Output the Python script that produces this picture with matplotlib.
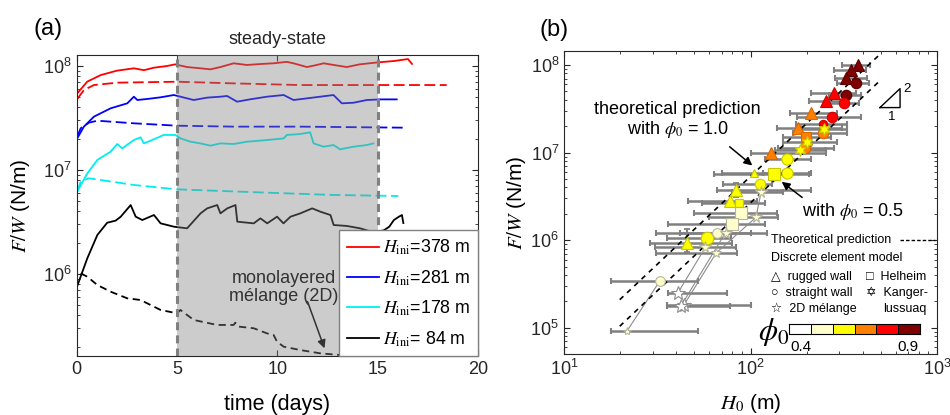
import numpy as np
import matplotlib
matplotlib.use('Agg')
import matplotlib.pyplot as plt
from matplotlib.colors import ListedColormap

plt.rcParams['font.family'] = ['Liberation Sans', 'DejaVu Sans']
plt.rcParams['mathtext.fontset'] = 'stix'
plt.rcParams['axes.linewidth'] = 0.8
plt.rcParams['axes.edgecolor'] = '#262626'
plt.rcParams['xtick.color'] = '#262626'
plt.rcParams['ytick.color'] = '#262626'

# ---------------- (a) F/W through time, stored as log10(F/W) ----------------
t_red = [0.03, 0.53, 1.2, 2.0, 2.85, 3.35, 3.85, 4.5, 4.9, 5.5, 6.16, 6.66, 7.16, 7.82, 8.48,
         9.15, 9.8, 10.47, 10.8, 11.47, 11.96, 12.3, 12.8, 13.45, 14.1, 15.0, 15.8, 16.5, 16.7]
log_red = [7.737, 7.85, 7.913, 7.955, 7.978, 7.96, 7.984, 8.0, 8.016, 7.99, 7.978, 7.968, 7.99, 8.026, 8.01,
           8.019, 8.026, 8.04, 8.026, 7.99, 8.01, 8.026, 8.01, 7.99, 8.016, 8.035, 8.048, 8.067, 8.02]
t_red_d = [0.03, 0.36, 0.86, 2.02, 5.0, 7.82, 11.13, 14.95, 18.43]
log_red_d = [7.683, 7.769, 7.817, 7.84, 7.849, 7.833, 7.817, 7.817, 7.817]

t_blue = [0.03, 0.36, 0.86, 1.69, 2.52, 2.85, 3.02, 3.51, 4.18, 4.84, 5.17, 5.83, 6.5, 7.16, 7.49,
          7.99, 8.65, 9.48, 10.31, 10.8, 11.47, 12.13, 12.79, 13.21, 13.79, 14.45, 15.11, 15.94]
log_blue = [7.305, 7.417, 7.513, 7.593, 7.641, 7.705, 7.673, 7.683, 7.699, 7.721, 7.705, 7.673, 7.696, 7.705, 7.712,
            7.657, 7.68, 7.705, 7.721, 7.673, 7.689, 7.705, 7.721, 7.641, 7.647, 7.673, 7.679, 7.679]
t_blue_d = [0.03, 0.2, 0.61, 1.03, 2.85, 5.0, 7.82, 11.13, 16.27]
log_blue_d = [7.321, 7.401, 7.455, 7.474, 7.449, 7.426, 7.417, 7.417, 7.407]

t_cyan = [0.03, 0.53, 1.03, 1.69, 2.02, 2.27, 2.85, 3.18, 3.35, 3.84, 4.34, 4.92, 5.17, 5.67, 6.16,
          6.66, 7.16, 7.82, 8.48, 9.48, 10.31, 10.47, 11.13, 11.63, 11.8, 12.3, 12.79, 13.12, 13.79, 14.45, 14.78]
log_cyan = [6.792, 6.968, 7.096, 7.176, 7.25, 7.208, 7.288, 7.314, 7.256, 7.295, 7.337, 7.337, 7.304, 7.272, 7.256,
            7.234, 7.256, 7.25, 7.272, 7.288, 7.304, 7.337, 7.346, 7.362, 7.256, 7.224, 7.24, 7.199, 7.224, 7.24, 7.256]
t_cyan_d = [0.03, 0.2, 0.61, 1.19, 2.85, 5.0, 9.48, 12.79, 16.02]
log_cyan_d = [6.792, 6.888, 6.92, 6.904, 6.856, 6.814, 6.782, 6.76, 6.75]

t_black = [0.03, 0.53, 1.03, 1.52, 1.94, 2.19, 2.69, 2.94, 3.27, 3.85, 4.18, 4.84, 5.5, 6.17, 6.5,
           7.0, 7.16, 7.5, 7.91, 8.0, 8.82, 9.15, 9.49, 9.98, 10.3, 10.65, 11.14, 11.73, 12.14, 12.64,
           12.8, 13.45, 14.12, 14.8, 15.3, 15.57, 15.8, 16.05, 16.2, 16.27]
log_black = [5.885, 6.151, 6.375, 6.493, 6.513, 6.55, 6.663, 6.551, 6.519, 6.567, 6.487, 6.455, 6.439, 6.583, 6.631,
             6.663, 6.583, 6.631, 6.663, 6.503, 6.487, 6.535, 6.487, 6.551, 6.487, 6.551, 6.583, 6.631, 6.599, 6.567,
             6.471, 6.462, 6.439, 6.40, 6.42, 6.455, 6.519, 6.551, 6.567, 6.49]
t_black_d = [0.2, 0.53, 1.03, 1.69, 2.52, 3.18, 4.18, 5.0, 5.17, 5.83, 6.99, 7.82, 7.9, 8.07, 8.82,
             9.48, 9.81, 9.98, 10.31, 11.13, 12.13, 13.12, 14.0, 15.0]
log_black_d = [6.006, 5.974, 5.894, 5.83, 5.766, 5.75, 5.654, 5.622, 5.654, 5.558, 5.51, 5.51, 5.532, 5.494, 5.478,
               5.429, 5.413, 5.349, 5.301, 5.269, 5.237, 5.221, 5.20, 5.19]

H_ini = [378, 281, 178, 84]

# ---------------- (b) F/W against H0 ----------------
H0 = [375, 346, 325, 370, 327, 279, 254, 316, 274, 244,
      211, 179, 244, 199, 195, 129, 249, 202, 185, 156,
      156, 133, 104, 112, 84, 78, 86.5, 58.6, 45.8, 114,
      89, 107, 79.8, 66, 73.5, 57.3, 65.6, 32.6, 21.7, 40.8,
      43.9, 42.3]
FW = [1.0e8, 8.77e7, 7.16e7, 6.28e7, 4.54e7, 4.82e7, 3.88e7, 3.65e7, 2.56e7, 2.1e7,
      2.8e7, 1.92e7, 1.66e7, 1.52e7, 1.12e7, 9.95e6, 1.86e7, 1.31e7, 1.07e7, 8.36e6,
      5.78e6, 5.64e6, 5.87e6, 4.37e6, 3.73e6, 2.79e6, 2.67e6, 1.06e6, 9.3e5, 3.56e6,
      2.05e6, 1.82e6, 1.51e6, 1.22e6, 1.22e6, 8.26e5, 7.17e5, 3.4e5, 9.1e4, 2.5e5,
      1.81e5, 1.76e5]
H_lo = [310, 281, 285, 292, 264, 212, 207, 249, 178, 175,
        162, 138, 168, 150, 140, 101, 190, 150, 135, 120,
        116, 64, 70, 71, 66, 46, 55, 35.6, 28.8, 80,
        50, 60, 36, 31, 42, 30.7, 31, 17.8, 17.8, 35.9,
        35.6, 35.6]
H_hi = [439, 417, 423, 432, 393, 369, 326, 383, 393, 330,
        292, 310, 330, 270, 280, 255, 330, 290, 255, 210,
        212, 207, 150, 131, 212, 108, 120, 79, 79.8, 150,
        138, 140, 119, 123, 100, 84, 85, 52.2, 52.2, 75,
        100, 78]
shape = ['tri', 'tri', 'tri', 'circ', 'circ', 'tri', 'tri', 'circ', 'circ', 'circ',
         'tri', 'tri', 'circ', 'sq', 'circ', 'tri', 'hex', 'hex', 'hex', 'circ',
         'circ', 'sq', 'tri', 'circ', 'tri', 'tri', 'sq', 'circ', 'tri', 'star',
         'sq', 'star', 'sq', 'circ', 'star', 'star', 'star', 'circ', 'star', 'star',
         'star', 'star']
phi_bin = [5, 5, 5, 5, 5, 4, 4, 4, 4, 4,
           3, 3, 3, 3, 3, 3, 2, 2, 2, 2,
           2, 2, 2, 2, 2, 2, 2, 2, 2, 1,
           1, 1, 1, 1, 1, 1, 1, 1, 1, 0,
           0, 0]
msize = [8, 8, 8, 7.5, 7.5, 8, 8, 7.5, 7.5, 6,
         8, 8, 7.5, 7.5, 7.5, 8, 8.5, 8.5, 8.5, 8,
         8, 8, 5.5, 7.5, 8, 8, 6, 9, 8, 8.5,
         8.5, 8.5, 8.5, 7, 8.5, 8.5, 7, 7, 6, 10,
         10, 10]

# vertical error bars on a few points
vbar_idx = [24, 28]
vbar_lo = [3.1e6, 7.3e5]
vbar_hi = [4.48e6, 1.34e6]

# thin lines joining the same run across stages
links = [[38, 37], [40, 36, 31, 29], [41, 34], [39, 35]]

# theoretical prediction F/W ~ phi0 * H0^2
theory_H = [19.9, 490]
theory_F_10 = [2.09e5, 1.30e8]
theory_F_05 = [1.04e5, 6.5e7]

phi_edges = np.linspace(0.4, 0.9, 7)
phi_colors = ['#ffffff', '#ffffcc', '#ffff00', '#ff8000', '#ff0000', '#800000']
edge_colors = ['#8c8c8c', '#b4b4a0', '#c8c800', '#d86800', '#d00000', '#5a0000']
markers = {'tri': '^', 'circ': 'o', 'sq': 's', 'star': '*', 'hex': (6, 1, 0)}

fig = plt.figure(figsize=(9.5, 4.15), dpi=100)
ax1 = fig.add_axes([0.0807, 0.1422, 0.4227, 0.7253])
ax2 = fig.add_axes([0.5937, 0.1470, 0.3926, 0.7308])

# ---------- panel (a) ----------
series = [
    (t_red, log_red, t_red_d, log_red_d, '#ff0000'),
    (t_blue, log_blue, t_blue_d, log_blue_d, '#0000ff'),
    (t_cyan, log_cyan, t_cyan_d, log_cyan_d, '#00eeee'),
    (t_black, log_black, t_black_d, log_black_d, '#000000'),
]
for (ts, ls_, td, ld, c), h in zip(series, H_ini):
    lab = r'$H_{\rm ini}$=%d m' % h if h >= 100 else r'$H_{\rm ini}$= %d m' % h
    ax1.plot(ts, 10 ** np.array(ls_), color=c, lw=1.3, label=lab, zorder=2)
    dash = (6, 2.5) if c != '#000000' else (4, 2.5)
    ax1.plot(td, 10 ** np.array(ld), color=c, lw=1.3, ls=(0, dash), zorder=2)

ax1.axvspan(5, 15, facecolor='0.5', alpha=0.4, lw=0, zorder=3)
for xv in (5, 15):
    ax1.axvline(xv, color='0.5', lw=2.2, ls=(0, (2.6, 1.7)), zorder=4)

ax1.set_yscale('log')
ax1.set_xlim(0, 20)
ax1.set_ylim(10 ** 5.2115, 10 ** 8.106)
ax1.set_xticks([0, 5, 10, 15, 20])
ax1.set_yticks([1e6, 1e7, 1e8])
ax1.tick_params(which='both', direction='in', top=True, right=True, labelsize=13)
ax1.tick_params(which='major', length=4.5, width=0.8)
ax1.tick_params(which='minor', length=2.5, width=0.6)
ax1.set_xlabel('time (days)', fontsize=15.5)
ax1.set_ylabel('$F/W$ (N/m)', fontsize=15)
ax1.xaxis.set_label_coords(0.5, -0.125)
ax1.yaxis.set_label_coords(-0.112, 0.5)

ax1.text(10, 1.05, 'steady-state', transform=ax1.get_xaxis_transform(),
         ha='center', va='center', fontsize=13, color='#262626')
ax1.text(10.3, 10 ** 5.87, 'monolayered\nmélange (2D)', ha='center', va='center',
         fontsize=13, color='k', zorder=2.5, linespacing=1.15)
ax1.annotate('', xy=(12.39, 10 ** 5.26), xytext=(11.45, 10 ** 5.76),
             arrowprops=dict(arrowstyle='-|>', color='k', lw=1.1, mutation_scale=12), zorder=2.5)

leg = ax1.legend(loc='lower right', borderaxespad=0, fontsize=12.8, handlelength=1.8,
                 handletextpad=0.25, labelspacing=0.62, borderpad=0.42, fancybox=False,
                 framealpha=1, edgecolor='0.5')
leg.get_frame().set_linewidth(1.0)
leg.set_zorder(6)

fig.text(0.035, 0.930, '(a)', fontsize=17, ha='left', va='center')

# ---------- panel (b) ----------
H0a = np.array(H0)
FWa = np.array(FW)
ax2.errorbar(H0a, FWa, xerr=[H0a - np.array(H_lo), np.array(H_hi) - H0a], fmt='none',
             ecolor='0.5', elinewidth=1.8, capsize=2.2, capthick=1.5, zorder=2)
for i, lo, hi in zip(vbar_idx, vbar_lo, vbar_hi):
    ax2.errorbar([H0[i]], [FW[i]], yerr=[[FW[i] - lo], [hi - FW[i]]], fmt='none',
                 ecolor='0.5', elinewidth=1.5, capsize=2.2, capthick=1.3, zorder=2)
for grp in links:
    ax2.plot([H0[k] for k in grp], [FW[k] for k in grp], color='0.55', lw=0.8, zorder=2.5)

ax2.plot(theory_H, theory_F_10, color='k', lw=1.2, ls=(0, (3, 3)), zorder=2.6)
ax2.plot(theory_H, theory_F_05, color='k', lw=1.2, ls=(0, (3, 3)), zorder=2.6)

for i in range(len(H0)):
    b = phi_bin[i]
    ax2.plot(H0[i], FW[i], marker=markers[shape[i]], ms=msize[i], mfc=phi_colors[b],
             mec=edge_colors[b], mew=0.8, ls='none', zorder=3)

ax2.set_xscale('log')
ax2.set_yscale('log')
ax2.set_xlim(10, 1000)
ax2.set_ylim(10 ** 4.70, 10 ** 8.163)
ax2.set_yticks([1e5, 1e6, 1e7, 1e8])
ax2.tick_params(which='both', direction='in', top=True, right=True, labelsize=13)
ax2.tick_params(which='major', length=4.5, width=0.8)
ax2.tick_params(which='minor', length=2.5, width=0.6)
ax2.set_xlabel('$H_0$ (m)', fontsize=15)
ax2.set_ylabel('$F/W$ (N/m)', fontsize=15)
ax2.xaxis.set_label_coords(0.5, -0.125)
ax2.yaxis.set_label_coords(-0.097, 0.5)

ax2.text(0.305, 0.77, 'theoretical prediction\nwith $\\phi_0$ = 1.0', transform=ax2.transAxes,
         ha='center', va='center', fontsize=13, linespacing=1.1)
ax2.annotate('', xy=(105, 6.8e6), xytext=(75.3, 1.22e7),
             arrowprops=dict(arrowstyle='-|>', color='k', lw=1.1, mutation_scale=12))
ax2.text(0.638, 0.47, 'with $\\phi_0$ = 0.5', transform=ax2.transAxes,
         ha='left', va='center', fontsize=13)
ax2.annotate('', xy=(143, 4.85e6), xytext=(194.5, 2.94e6),
             arrowprops=dict(arrowstyle='-|>', color='k', lw=1.1, mutation_scale=12))

# slope marker
ax2.plot([0.847, 0.901, 0.901, 0.847], [0.8125, 0.8125, 0.875, 0.8125],
         transform=ax2.transAxes, color='k', lw=1.0)
ax2.text(0.919, 0.874, '2', transform=ax2.transAxes, fontsize=9.5, ha='center', va='center')
ax2.text(0.879, 0.783, '1', transform=ax2.transAxes, fontsize=9.5, ha='center', va='center')

# key
kfs = 9
ax2.text(0.556, 0.375, 'Theoretical prediction', transform=ax2.transAxes, fontsize=kfs, va='center')
ax2.plot([0.9, 0.995], [0.375, 0.375], transform=ax2.transAxes, color='k', lw=1.0, ls=(0, (2.5, 1.5)))
ax2.text(0.556, 0.316, 'Discrete element model', transform=ax2.transAxes, fontsize=kfs, va='center')
ax2.text(0.556, 0.253, '\u25b3  rugged wall', transform=ax2.transAxes, fontsize=kfs, va='center')
ax2.text(0.556, 0.201, '\u25cb  straight wall', transform=ax2.transAxes, fontsize=kfs, va='center')
ax2.text(0.556, 0.148, '\u2606  2D mélange', transform=ax2.transAxes, fontsize=kfs, va='center')
ax2.text(0.81, 0.253, '\u25a1  Helheim', transform=ax2.transAxes, fontsize=kfs, va='center')
ax2.text(0.81, 0.201, '\u2721  Kanger-', transform=ax2.transAxes, fontsize=kfs, va='center')
ax2.text(0.855, 0.148, 'lussuaq', transform=ax2.transAxes, fontsize=kfs, va='center')
ax2.text(0.603, 0.072, '$\\phi_0$', transform=ax2.transAxes, fontsize=22, ha='right', va='center')

cax = fig.add_axes([789.3 / 950, 1 - 334 / 415, 130.7 / 950, 10 / 415])
cax.pcolormesh(phi_edges, [0, 1], np.array([phi_edges[:-1] + 0.04]),
               cmap=ListedColormap(phi_colors), vmin=0.4, vmax=0.9,
               edgecolors='k', linewidth=0.7)
cax.set_xlim(0.4, 0.9)
cax.set_xticks([])
cax.set_yticks([])
for s in cax.spines.values():
    s.set_linewidth(0.8)
    s.set_color('k')
cax.text(0.01, -0.6, '0.4', transform=cax.transAxes, ha='left', va='top', fontsize=11)
cax.text(0.99, -0.6, '0.9', transform=cax.transAxes, ha='right', va='top', fontsize=11)

fig.text(0.568, 0.928, '(b)', fontsize=17, ha='left', va='center')

fig.savefig('out.png', dpi=100)
